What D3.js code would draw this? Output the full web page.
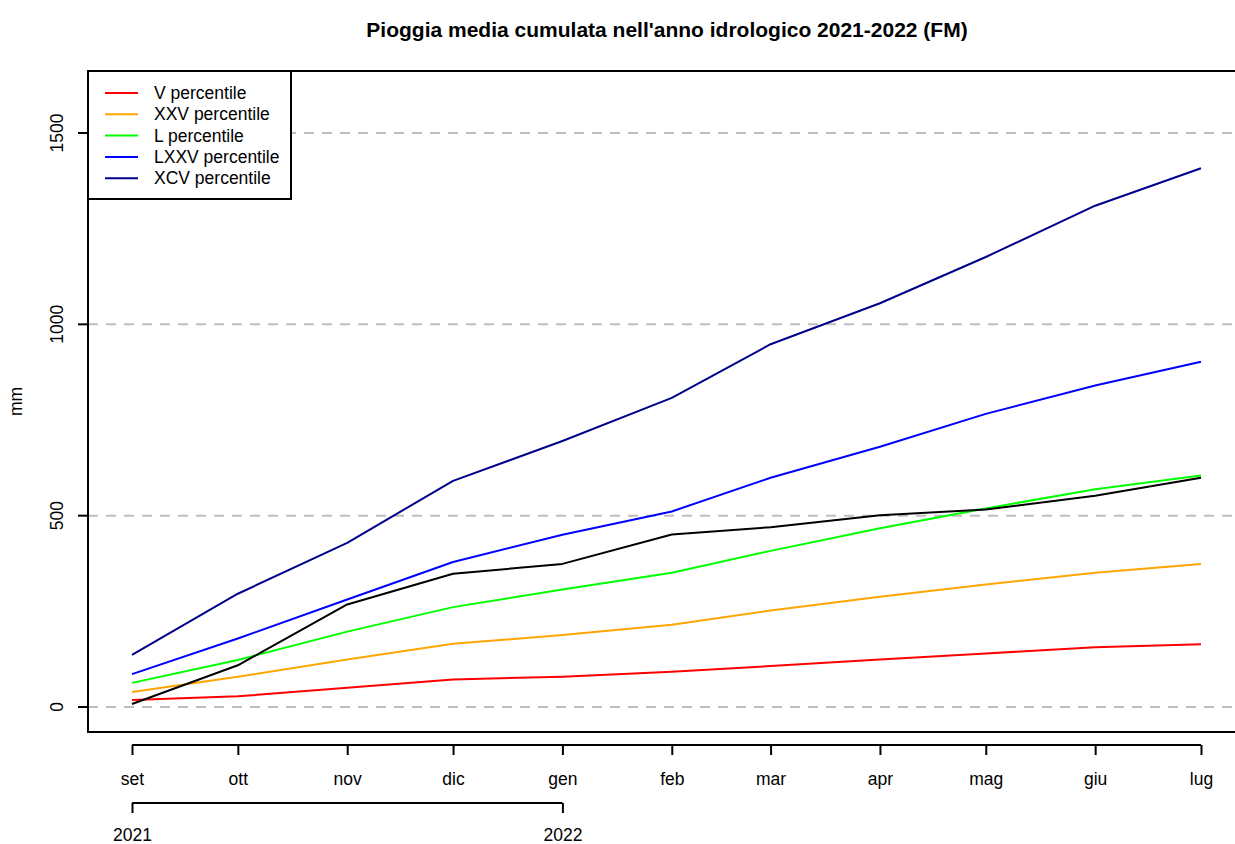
<!DOCTYPE html>
<html>
<head>
<meta charset="utf-8">
<script src="https://cdn.jsdelivr.net/npm/d3@7"></script>
<style>
  html, body { margin: 0; padding: 0; background: #fff; }
  svg { display: block; font-family: "Liberation Sans", Arial, Helvetica, sans-serif; }
</style>
</head>
<body>
<svg id="chart" width="1235" height="844"></svg>
<script>
// Monthly dates of the hydrological year (first day of each month)
const months = ["2021-09-01","2021-10-01","2021-11-01","2021-12-01","2022-01-01","2022-02-01",
                "2022-03-01","2022-04-01","2022-05-01","2022-06-01","2022-07-01"];
const monthLabels = ["set","ott","nov","dic","gen","feb","mar","apr","mag","giu","lug"];
const yearTicks = ["2021-09-01","2022-01-01"];
const yearLabels = ["2021","2022"];
const yTicks = [0, 500, 1000, 1500];

// Climatological percentiles of cumulated rainfall (mm)
const p05 = [18, 28, 50, 72, 79, 92, 107, 124, 140, 156, 164];
const p25 = [39, 79, 124, 165, 188, 215, 252, 288, 320, 351, 374];
const p50 = [63, 123, 197, 261, 307, 351, 408, 467, 519, 569, 605];
const p75 = [86, 179, 281, 379, 450, 511, 599, 680, 766, 840, 902];
const p95 = [136, 296, 429, 591, 695, 808, 948, 1055, 1176, 1310, 1408];
// Cumulated rainfall for the current year
const current = [8, 109, 268, 348, 374, 451, 470, 501, 516, 552, 599];

const seriesNames = ["V percentile","XXV percentile","L percentile","LXXV percentile","XCV percentile"];
const seriesColors = ["#FF0000","#FFA500","#00FF00","#0000FF","#00008B"];
const seriesValues = [p05, p25, p50, p75, p95];

const FONT = "'Liberation Sans', Arial, Helvetica, sans-serif";
const LABEL_SIZE = 17.5;

const parse = d3.timeParse("%Y-%m-%d");
const dates = months.map(parse);

const svg = d3.select("#chart");
const box = { left: 88, right: 1246, top: 71, bottom: 732 };

const x = d3.scaleTime()
  .domain([dates[0], dates[dates.length - 1]])
  .range([132, 1201]);
const y = d3.scaleLinear()
  .domain([0, 1500])
  .range([707, 133]);

// Horizontal dashed reference lines
svg.append("g").selectAll("line").data(yTicks).join("line")
  .attr("x1", box.left).attr("x2", box.right)
  .attr("y1", d => y(d)).attr("y2", d => y(d))
  .attr("stroke", "#BEBEBE").attr("stroke-width", 2)
  .attr("stroke-dasharray", "10,8");

// Series lines
const line = d3.line().x((d, i) => x(dates[i])).y(d => y(d));
svg.append("g").selectAll("path").data(seriesValues).join("path")
  .attr("d", d => line(d))
  .attr("fill", "none")
  .attr("stroke", (d, i) => seriesColors[i])
  .attr("stroke-width", 2)
  .attr("stroke-linejoin", "round");

svg.append("path")
  .attr("d", line(current))
  .attr("fill", "none")
  .attr("stroke", "#000")
  .attr("stroke-width", 2)
  .attr("stroke-linejoin", "round");

// Plot frame
svg.append("rect")
  .attr("x", box.left).attr("y", box.top)
  .attr("width", box.right - box.left).attr("height", box.bottom - box.top)
  .attr("fill", "none").attr("stroke", "#000").attr("stroke-width", 2);

function styleAxis(g) {
  g.selectAll(".tick line").attr("stroke-width", 2);
  g.selectAll(".tick text").attr("font-size", LABEL_SIZE).attr("fill", "#000")
    .attr("font-family", FONT);
}

// Month axis
const xAxis = d3.axisBottom(x)
  .tickValues(dates)
  .tickFormat((d, i) => monthLabels[i])
  .tickSize(10).tickPadding(17.5);
const gx = svg.append("g").attr("transform", "translate(0,745)").call(xAxis);
gx.select(".domain").attr("d", `M${x(dates[0])},0H${x(dates[dates.length - 1])}`)
  .attr("stroke-width", 2);
styleAxis(gx);

// Year axis
const yearDates = yearTicks.map(parse);
const yearAxis = d3.axisBottom(x)
  .tickValues(yearDates)
  .tickFormat((d, i) => yearLabels[i])
  .tickSize(10).tickPadding(15.5);
const gyear = svg.append("g").attr("transform", "translate(0,803)").call(yearAxis);
gyear.select(".domain").attr("d", `M${x(yearDates[0])},0H${x(yearDates[1])}`)
  .attr("stroke-width", 2);
styleAxis(gyear);

// Value axis (ticks on the frame, rotated labels)
const gy = svg.append("g");
gy.selectAll("line").data(yTicks).join("line")
  .attr("x1", box.left - 10).attr("x2", box.left)
  .attr("y1", d => y(d)).attr("y2", d => y(d))
  .attr("stroke", "#000").attr("stroke-width", 2);
gy.selectAll("text").data(yTicks).join("text")
  .attr("transform", d => `translate(63,${y(d)}) rotate(-90)`)
  .attr("text-anchor", "middle")
  .attr("font-size", LABEL_SIZE)
  .text(d => d);

svg.append("text")
  .attr("transform", `translate(22,${(box.top + box.bottom) / 2}) rotate(-90)`)
  .attr("text-anchor", "middle")
  .attr("font-size", LABEL_SIZE)
  .text("mm");

// Title
svg.append("text")
  .attr("x", (box.left + box.right) / 2).attr("y", 37)
  .attr("text-anchor", "middle")
  .attr("font-size", 21).attr("font-weight", "bold")
  .text("Pioggia media cumulata nell'anno idrologico 2021-2022 (FM)");

// Legend
const legend = svg.append("g");
legend.append("rect")
  .attr("x", box.left).attr("y", box.top)
  .attr("width", 203).attr("height", 128)
  .attr("fill", "#fff").attr("stroke", "#000").attr("stroke-width", 2);
const items = legend.selectAll("g.item").data(seriesNames).join("g")
  .attr("class", "item")
  .attr("transform", (d, i) => `translate(0,${93 + i * 21.3})`);
items.append("line")
  .attr("x1", 105).attr("x2", 138)
  .attr("stroke", (d, i) => seriesColors[i]).attr("stroke-width", 2);
items.append("text")
  .attr("x", 154).attr("dy", "0.35em")
  .attr("font-size", LABEL_SIZE)
  .text(d => d);
</script>
</body>
</html>
